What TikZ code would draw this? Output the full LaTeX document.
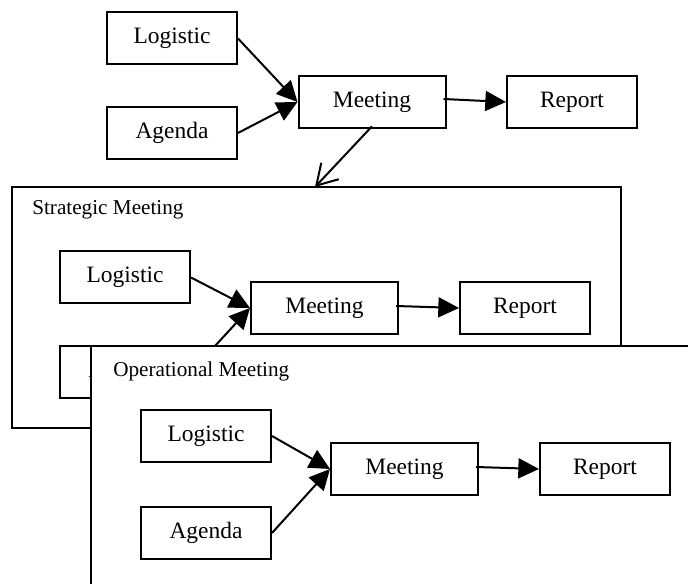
\documentclass[tikz,border=0pt]{standalone}
\usepackage{fontspec}
\setmainfont{Liberation Serif}
\usetikzlibrary{arrows.meta}
\begin{document}
\begin{tikzpicture}[x=0.75pt,y=-0.75pt,
  box/.style={draw, line width=1.5pt, minimum height=39pt, inner sep=0pt,
    text height=0.82em, text depth=0pt, font=\fontsize{17.6}{20}\selectfont, fill=white},
  sbox/.style={box, minimum width=97.5pt},
  mbox/.style={box, minimum width=110.25pt},
  flow/.style={line width=1.5pt, -{Triangle[length=15.5pt,width=15pt]}},
  link/.style={line width=1.5pt, -{Straight Barb[length=15pt,width=18pt,line width=1.5pt]}},
  frame/.style={draw, line width=1.5pt, fill=white},
  ftitle/.style={anchor=base west, inner sep=0pt, font=\fontsize{15.9}{18}\selectfont}]
\useasboundingbox (0,0) rectangle (688,584);
\clip (0,0) rectangle (688,584);

% top level
\node[sbox] (L1) at (172,38.5) {Logistic};
\node[sbox] (A1) at (172,133) {Agenda};
\node[mbox] (M1) at (372,102) {Meeting};
\node[sbox] (R1) at (572,102) {Report};
\draw[flow] (L1.east) -- (M1.west);
\draw[flow] (A1.east) -- (M1.west);
\draw[flow] ([shift={(-3,-3)}]M1.east) -- (R1.west);

% strategic frame
\draw[frame] (12,187) rectangle (621,428);
\coordinate (S) at (315,187);
\draw[link] ([yshift=2]M1.south) -- (S);
\node[ftitle] (ST) at (32,215) {Strategic Meeting};
\node[sbox] (L2) at (125,277.5) {Logistic};
\node[sbox] (A2) at (125,372) {Agenda};
\node[mbox] (M2) at (324.5,308) {Meeting};
\node[sbox] (R2) at (525,308) {Report};
\draw[flow] (L2.east) -- (M2.west);
\draw[flow] (A2.east) -- (M2.west);
\draw[flow] ([shift={(-3,-2)}]M2.east) -- (R2.west);

% operational frame
\draw[frame] (91,346) rectangle (720,620);
\node[ftitle] (OT) at (113,376) {Operational Meeting};
\node[sbox] (L3) at (206,436) {Logistic};
\node[sbox] (A3) at (206,533) {Agenda};
\node[mbox] (M3) at (404.5,469) {Meeting};
\node[sbox] (R3) at (605,469) {Report};
\draw[flow] (L3.east) -- (M3.west);
\draw[flow] (A3.east) -- (M3.west);
\draw[flow] ([shift={(-3,-2)}]M3.east) -- (R3.west);
\end{tikzpicture}
\end{document}
